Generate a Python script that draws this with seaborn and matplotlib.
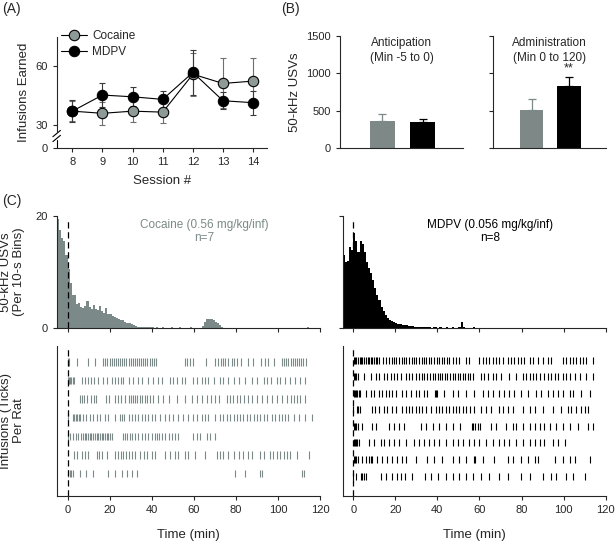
import numpy as np
import pandas as pd
import matplotlib
matplotlib.use("Agg")
import matplotlib.pyplot as plt
import seaborn as sns

# ---- data ----
sessions = [8, 9, 10, 11, 12, 13, 14]
coc_inf = [37.1, 36.0, 37.1, 36.6, 55.9, 51.2, 52.4]
coc_inf_sem = [5.0, 6.0, 5.7, 5.7, 11.0, 12.7, 11.5]
mdpv_inf = [37.1, 45.3, 44.4, 43.1, 56.8, 42.4, 41.4]
mdpv_inf_sem = [5.5, 5.9, 4.8, 4.4, 11.5, 4.4, 6.2]

drugs = ["Cocaine", "MDPV"]
antic_usv = [365, 347]
antic_sem = [89, 40]
admin_usv = [512, 832]
admin_sem = [151, 116]

# USVs per 10-s bin, averaged per minute (-5 .. 119 min)
usv_minutes = list(range(-5, 120))
coc_usv = [
    19.5, 17.5, 16.0, 15.5, 13.0,
    10.5, 8.0, 6.0, 6.0, 4.3, 4.5, 3.8, 3.6, 4.0, 4.8,
    3.7, 3.5, 4.1, 3.5, 3.2, 4.0, 3.0, 2.8, 3.6, 2.6,
    2.6, 2.1, 2.0, 1.8, 1.7, 1.5, 1.4, 1.2, 1.0, 0.9,
    0.7, 0.6, 0.4, 0.3, 0.3, 0.3, 0.2, 0.3, 0.2, 0.2,
    0.2, 0.1, 0.2, 0.1, 0.1, 0.2, 0.1, 0.1, 0.1, 0.2,
    0.1, 0.1, 0.1, 0.2, 0.1, 0.0, 0.1, 0.1, 0.2, 0.1,
    0.1, 0.1, 0.1, 0.1, 0.4, 1.2, 1.6, 1.7, 1.6, 1.4,
    1.2, 0.9, 0.5, 0.3, 0.1, 0.1, 0.0, 0.1, 0.0, 0.0,
    0.1, 0.0, 0.0, 0.1, 0.0, 0.0, 0.0, 0.1, 0.0, 0.0,
    0.0, 0.1, 0.0, 0.0, 0.0, 0.0, 0.1, 0.0, 0.0, 0.0,
    0.0, 0.0, 0.1, 0.0, 0.0, 0.0, 0.0, 0.0, 0.0, 0.0,
    0.0, 0.0, 0.0, 0.0, 0.3, 0.0, 0.0, 0.0, 0.0, 0.0,
]
mdpv_usv = [
    13.0, 11.8, 12.0, 14.5, 14.0,
    17.0, 15.5, 13.5, 15.5, 15.0, 13.5, 11.8, 10.8, 9.8, 8.5,
    7.2, 6.0, 5.0, 3.8, 3.0, 2.3, 1.8, 1.5, 1.3, 1.1,
    0.9, 0.8, 0.7, 0.6, 0.5, 0.5, 0.4, 0.4, 0.35, 0.3,
    0.3, 0.2, 0.3, 0.2, 0.2, 0.2, 0.2, 0.1, 0.2, 0.2,
    0.1, 0.2, 0.1, 0.1, 0.2, 0.1, 0.1, 0.2, 0.1, 0.1,
    0.2, 1.1, 0.2, 0.1, 0.1, 0.1, 0.1, 0.2, 0.1, 0.1,
    0.1, 0.0, 0.1, 0.0, 0.1, 0.0, 0.0, 0.1, 0.0, 0.0,
    0.1, 0.0, 0.0, 0.1, 0.0, 0.0, 0.0, 0.1, 0.0, 0.0,
    0.0, 0.1, 0.0, 0.0, 0.0, 0.0, 0.0, 0.0, 0.1, 0.0,
    0.0, 0.0, 0.0, 0.0, 0.0, 0.1, 0.0, 0.0, 0.0, 0.0,
    0.0, 0.0, 0.0, 0.0, 0.0, 0.0, 0.0, 0.0, 0.0, 0.0,
    0.0, 0.0, 0.0, 0.0, 0.0, 0.0, 0.0, 0.0, 0.0, 0.0,
]

# infusion times (min) per rat
coc_rats = [
    [0.3, 0.8, 4.3, 9.8, 13, 17, 18, 19, 20, 21, 22, 23, 24, 25, 26, 27, 28, 29, 30, 31, 32, 33,
     34, 35, 36, 37, 38, 39, 40, 41, 42, 56, 57, 58, 59.5, 66, 70, 71.5, 73, 74, 75, 76.5, 78, 79,
     80.5, 82.5, 86, 88, 92, 94, 95.5, 98, 102, 103, 104, 105, 106, 107, 108, 109, 110, 111, 112, 113.5],
    [0.2, 0.7, 1.2, 1.8, 2.5, 3.2, 6.7, 8.3, 9.8, 11.4, 12.7, 14.3, 17, 18.6, 21, 22.5, 24, 25.2,
     26.5, 29, 31.3, 33.7, 35.2, 38.4, 40.8, 43.2, 44.8, 48.7, 50.3, 51.9, 54.3, 55.9, 59.8, 61.4,
     63.8, 65.4, 67, 69.4, 72.5, 74, 76.5, 78.9, 81.7, 84.4, 87.6, 90, 93.2, 94.8, 96.7, 99.5, 101,
     103.5, 105.9, 108.3, 110.6, 113],
    [5.9, 6.8, 8.0, 9.5, 11.4, 12.5, 13.6, 18.2, 19.7, 22.5, 24, 25.6, 27.2, 29, 30, 31, 32, 33, 34.4,
     35.5, 36.6, 38, 39.4, 40.8, 43.2, 45.6, 48, 52, 56, 59, 61.6, 64, 66.3, 68, 70.2, 72, 75.7, 77,
     78.6, 80.5, 82, 84, 85.7, 87.6, 90, 92.5, 94.8, 97.2, 99.5, 101.9, 104.3, 106, 107.5, 109,
     110.6, 113],
    [0.3, 2.7, 3.3, 4, 4.7, 5.4, 6, 7.5, 9, 10.6, 12.2, 13.8, 15.4, 17.8, 19.4, 22.5, 25, 26, 27, 29,
     30.5, 32.1, 33.7, 35.2, 36.8, 38.4, 40, 41.6, 44, 46.4, 48, 50.3, 52.7, 55, 57.5, 59.8, 61.4,
     63.8, 65.4, 67, 70.2, 72.5, 74, 75.7, 77.3, 78.9, 80.5, 82, 83.6, 85.2, 86.8, 88.4, 90, 91.6,
     93.2, 94.8, 97.2, 98.7, 100.3, 101.9, 103.5, 105, 107.5, 109.8, 113, 116.2],
    [0.3, 1.4, 2.7, 4, 5.1, 6.3, 7.5, 8.3, 9, 9.8, 10.6, 11.4, 12.2, 13, 13.8, 14.6, 15.4, 16.2, 17,
     17.8, 18.6, 19.4, 20.2, 21, 26.2, 27.3, 28.2, 29.5, 30.5, 32, 33.7, 35.2, 36.8, 38.4, 40,
     41.5, 42.5, 43.5, 45, 46.4, 48, 49.5, 51, 52.7, 59.8, 61.4, 63, 66.2, 67.8, 70.2],
    [3, 4.3, 6.7, 8.3, 9.8, 13.8, 15.1, 16.2, 18.6, 22.5, 24, 25.2, 26.5, 27.8, 29, 30.5, 32.1,
     34.4, 36.3, 37.6, 40, 41.6, 46.3, 48.7, 51, 52.7, 55.9, 57.5, 60.6, 65.4, 71, 72.5, 73.8,
     76.5, 78.9, 81.3, 83.6, 86, 87.6, 91.6, 93.2, 96.3, 97.6, 99.5, 101, 102.7, 104.3, 105.9,
     109, 114.6],
    [0.3, 1.1, 1.9, 2.7, 5.9, 9, 12.2, 19.4, 22.5, 25.7, 28.1, 30.5, 32.9, 79.7, 84.4, 91.6, 92.4,
     111.4, 112.2],
]
mdpv_rats = [
    [0.2, 0.8, 1.5, 2.2, 3, 3.7, 4.4, 5.2, 6, 6.8, 7.5, 8.3, 9.1, 9.8, 10.6, 11.4, 12.2, 14.3, 15.7,
     17, 18.3, 19.4, 20.5, 21.8, 23, 24.2, 25.3, 26.6, 27.8, 28.9, 30, 31.3, 32.6, 33.7, 34.8, 36.1,
     37.2, 38.5, 39.6, 40.9, 42.1, 43.2, 44.4, 45.6, 47.2, 48.8, 50.4, 53.6, 55.2, 59.9, 61.5, 63.1,
     64.7, 66.3, 67.9, 69.5, 71.4, 73.4, 75, 76.6, 78.2, 79.8, 81.4, 83.8, 85.4, 87.8, 90.1, 92.5,
     94.1, 99.7, 101.3, 102.9, 104.5, 106, 107.6, 109.2, 110.5, 114],
    [0.2, 0.8, 1.5, 2.3, 5.1, 8.3, 10.7, 12.2, 14.6, 16.2, 17.8, 19.4, 21, 22.6, 25, 26.6, 28.1,
     29.7, 31.3, 32.6, 33.7, 35.3, 36.4, 37.7, 39, 40.1, 41.2, 42.4, 43.6, 44.8, 45.9, 47.2, 48.3,
     49.6, 50.7, 52, 53.3, 54.4, 55.5, 56.8, 60.7, 62.3, 63.9, 66.3, 67.9, 70.3, 74.2, 77.4, 80.6,
     82.2, 83.8, 85.4, 87, 88.6, 90.9, 92.5, 94.1, 95.7, 97.3, 99.7, 101.3, 103.2, 105.2, 107.6,
     110.8, 114],
    [0.2, 0.8, 1.4, 2, 2.7, 3.4, 5.9, 8.3, 9.9, 12.2, 13.8, 15.4, 17, 18.6, 20.2, 23.1, 25, 27.3,
     29.7, 31.3, 33.7, 35.3, 39, 39.3, 39.7, 43.2, 47.2, 49.6, 53.6, 57.6, 61.5, 63.9, 66.3, 69.5,
     71.9, 74.2, 76.6, 79.8, 83, 87, 89.3, 92.5, 94.9, 97.3, 99.7, 102.9, 104.5, 108.4, 112.4],
    [0.1, 1.9, 2.4, 3, 8.7, 10.3, 12.2, 14.6, 16.2, 18.6, 20.2, 23.4, 25, 26.6, 28.1, 29.7, 31.3,
     32.9, 34.5, 36.9, 39.3, 40.9, 42.4, 44, 45.6, 47.2, 48.8, 50.4, 52, 53.6, 55.5, 57.6, 60.7,
     63.1, 65.5, 69.5, 71.4, 73.4, 75.8, 80.6, 83.8, 86.2, 90.1, 94.9, 98.9, 102.1, 103.7, 106,
     108.4, 110, 111.6],
    [0.2, 0.8, 1.5, 2.3, 4.3, 9.1, 10.7, 17, 19.4, 21.8, 24.2, 32.1, 34.5, 37.7, 40.9, 44, 47.2,
     50.7, 56.4, 57.1, 58, 59.1, 60.3, 65.5, 67.9, 72.7, 75.8, 77.4, 80.6, 83.8, 86.2, 88.6, 90.9,
     93.3, 96.5, 99.7, 102.9, 106.8, 111.6, 114],
    [0.2, 0.8, 1.4, 2, 2.7, 7.5, 9.9, 13, 14.6, 17, 19.4, 21.8, 25, 28.9, 31.3, 33.7, 36.1, 38.5,
     40.9, 44, 47.2, 49.6, 52, 55.2, 57.6, 59.9, 63.1, 66.3, 69.5, 71.9, 74.2, 77.4, 80.6, 83.8,
     86.2, 88.6, 90.9, 94.9, 97.3, 100.5],
    [0.2, 0.8, 1.5, 2.3, 4.3, 5.9, 7.5, 8.3, 9.1, 11.4, 13.8, 16.2, 18.6, 21, 23.4, 25, 29.7, 35.3,
     38.5, 42.4, 47.2, 50.4, 53.6, 57.6, 57.9, 61.5, 67.1, 73.4, 75.8, 79.8, 83, 86.2, 87.8, 95.7,
     99.7, 102.9, 105.2, 112.4],
    [0.1, 1.1, 3.5, 4.3, 5.1, 5.9, 13, 15.7, 18.6, 21, 22.6, 24.6, 28.1, 34.2, 36.9, 40.1, 44, 47.2,
     50.4, 53.6, 56.8, 60.7, 64.7, 69.5, 73.4, 79.8, 83.8, 90.1, 94.1, 96.5, 101.3, 104.5, 110],
]

gray = "#7b8a88"

# ---- style ----
sns.set_style("ticks")
plt.rcParams["font.family"] = ["Liberation Sans", "DejaVu Sans"]
plt.rcParams["font.size"] = 8
plt.rcParams["axes.linewidth"] = 0.8
plt.rcParams["xtick.major.size"] = 3
plt.rcParams["ytick.major.size"] = 3
plt.rcParams["xtick.major.width"] = 0.8
plt.rcParams["ytick.major.width"] = 0.8

fig = plt.figure(figsize=(6.16, 5.46), dpi=100)

# ---- panel A ----
axA = fig.add_axes([0.092, 0.7295, 0.341, 0.2033])
zero_pos = 18.5  # axis break: 0 drawn just below 30
axA.errorbar(sessions, coc_inf, yerr=coc_inf_sem, fmt="none", ecolor="#6f6f6f",
             elinewidth=0.8, capsize=2.5, capthick=0.8, zorder=2)
axA.errorbar(sessions, mdpv_inf, yerr=mdpv_inf_sem, fmt="none", ecolor="#3a3a3a",
             elinewidth=0.8, capsize=2.5, capthick=0.8, zorder=2)
sns.lineplot(x=sessions, y=coc_inf, ax=axA, color="black", lw=0.8, marker="o",
             markersize=7.5, markerfacecolor="#8e9a98", markeredgecolor="black",
             markeredgewidth=0.8, label="Cocaine", zorder=3)
sns.lineplot(x=sessions, y=mdpv_inf, ax=axA, color="black", lw=0.8, marker="o",
             markersize=7.5, markerfacecolor="black", markeredgecolor="black",
             label="MDPV", zorder=4)
axA.set_xlim(7.48, 14.45)
axA.set_ylim(zero_pos, 75)
axA.set_xticks(sessions)
axA.set_yticks([zero_pos, 30, 60])
axA.set_yticklabels(["0", "30", "60"])
axA.spines["top"].set_visible(False)
axA.spines["right"].set_visible(False)
axA.spines["left"].set_bounds(26.5, 75)
ytr = axA.get_yaxis_transform()
axA.plot([0, 0], [zero_pos, 22.5], color="black", lw=0.8, transform=ytr, clip_on=False)
for yb in (22.5, 25.0):
    axA.plot([-0.018, 0.018], [yb - 0.9, yb + 2.3], color="black", lw=0.8,
             transform=ytr, clip_on=False)
axA.set_xlabel("Session #", fontsize=9.5, labelpad=6)
axA.set_ylabel("Infusions Earned", fontsize=9.5, labelpad=4)
axA.legend(loc="upper left", bbox_to_anchor=(0.0, 1.1), frameon=False, fontsize=8.5,
           handlelength=2.2, handletextpad=0.4, labelspacing=0.3, borderaxespad=0)

# ---- panel B ----
def bar_panel(rect, vals, sems, title, show_labels):
    ax = fig.add_axes(rect)
    df = pd.DataFrame({"drug": drugs, "usv": vals})
    sns.barplot(data=df, x="drug", y="usv", hue="drug", palette=[gray, "black"],
                width=0.62, ax=ax, legend=False, edgecolor="none")
    for i, (v, s) in enumerate(zip(vals, sems)):
        ax.errorbar(i, v, yerr=[[0], [s]], fmt="none", ecolor=gray if i == 0 else "black",
                    elinewidth=0.9, capsize=3, capthick=0.9)
    ax.set_xlim(-1.05, 2.0)
    ax.set_ylim(0, 1500)
    ax.set_yticks([0, 500, 1000, 1500])
    if not show_labels:
        ax.set_yticklabels([])
    ax.set_xticks([])
    ax.set_xlabel("")
    ax.set_ylabel("")
    ax.spines["top"].set_visible(False)
    ax.spines["right"].set_visible(False)
    ax.text(0.5, 0.99, title, transform=ax.transAxes, ha="center", va="top", fontsize=8.5,
            linespacing=1.3)
    return ax

axB1 = bar_panel([0.552, 0.7284, 0.2, 0.2057], antic_usv, antic_sem,
                 "Anticipation\n(Min -5 to 0)", True)
axB1.set_ylabel("50-kHz USVs", fontsize=9.5, labelpad=4)
axB2 = bar_panel([0.80, 0.7284, 0.184, 0.2057], admin_usv, admin_sem,
                 "Administration\n(Min 0 to 120)", False)
axB2.text(1, admin_usv[1] + admin_sem[1] + 40, "**", ha="center", va="bottom", fontsize=9)

# ---- panel C ----
edges = usv_minutes + [120]

def usv_panel(rect, vals, color, title, show_labels):
    ax = fig.add_axes(rect)
    ax.stairs(vals, edges, fill=True, color=color, linewidth=0)
    ax.axvline(0, ymax=0.96, color="black", lw=0.9, ls=(0, (5, 3)))
    ax.set_xlim(-5, 120)
    ax.set_ylim(0, 20)
    ax.set_xticks(range(0, 121, 20))
    ax.set_xticklabels([])
    ax.set_xlabel("")
    ax.set_yticks([0, 20])
    if not show_labels:
        ax.set_yticklabels([])
    ax.set_ylabel("")
    ax.spines["top"].set_visible(False)
    ax.spines["right"].set_visible(False)
    ax.text(0.56, 0.97, title, transform=ax.transAxes, ha="center", va="top",
            fontsize=8.5, color=color, linespacing=1.15)
    return ax

def raster_panel(rect, rats, color, lw):
    ax = fig.add_axes(rect)
    n = len(rats)
    ax.eventplot(rats, lineoffsets=np.arange(1, n + 1), linelengths=0.4 if n < 8 else 0.42,
                 colors=color, linewidths=lw)
    ax.axvline(0, color="black", lw=0.9, ls=(0, (5, 3)))
    ax.set_xlim(-5, 120)
    ax.set_ylim(n + 1.2, 1 - 0.85)
    ax.set_yticks([])
    ax.set_xticks(range(0, 121, 20))
    ax.spines["top"].set_visible(False)
    ax.spines["right"].set_visible(False)
    ax.set_xlabel("Time (min)", fontsize=9.5, labelpad=10)
    return ax

axC1 = usv_panel([0.0925, 0.3987, 0.427, 0.2062], coc_usv, gray,
                 "Cocaine (0.56 mg/kg/inf)\nn=7", True)
axC1.set_ylabel("50-kHz USVs\n(Per 10-s Bins)", fontsize=9.5)
axC1.yaxis.set_label_coords(-0.12, 0.5)
axC2 = usv_panel([0.5563, 0.3987, 0.427, 0.2062], mdpv_usv, "black",
                 "MDPV (0.056 mg/kg/inf)\nn=8", False)

axR1 = raster_panel([0.0925, 0.0916, 0.427, 0.2747], coc_rats, gray, 0.8)
axR1.set_ylabel("Infusions (Ticks)\nPer Rat", fontsize=9.5)
axR1.yaxis.set_label_coords(-0.12, 0.5)
axR2 = raster_panel([0.5563, 0.0916, 0.427, 0.2747], mdpv_rats, "black", 0.8)

# panel letters
fig.text(0.003, 0.997, "(A)", fontsize=10, va="top", ha="left")
fig.text(0.457, 0.997, "(B)", fontsize=10, va="top", ha="left")
fig.text(0.003, 0.645, "(C)", fontsize=10, va="top", ha="left")

fig.savefig("out.png", dpi=100)
